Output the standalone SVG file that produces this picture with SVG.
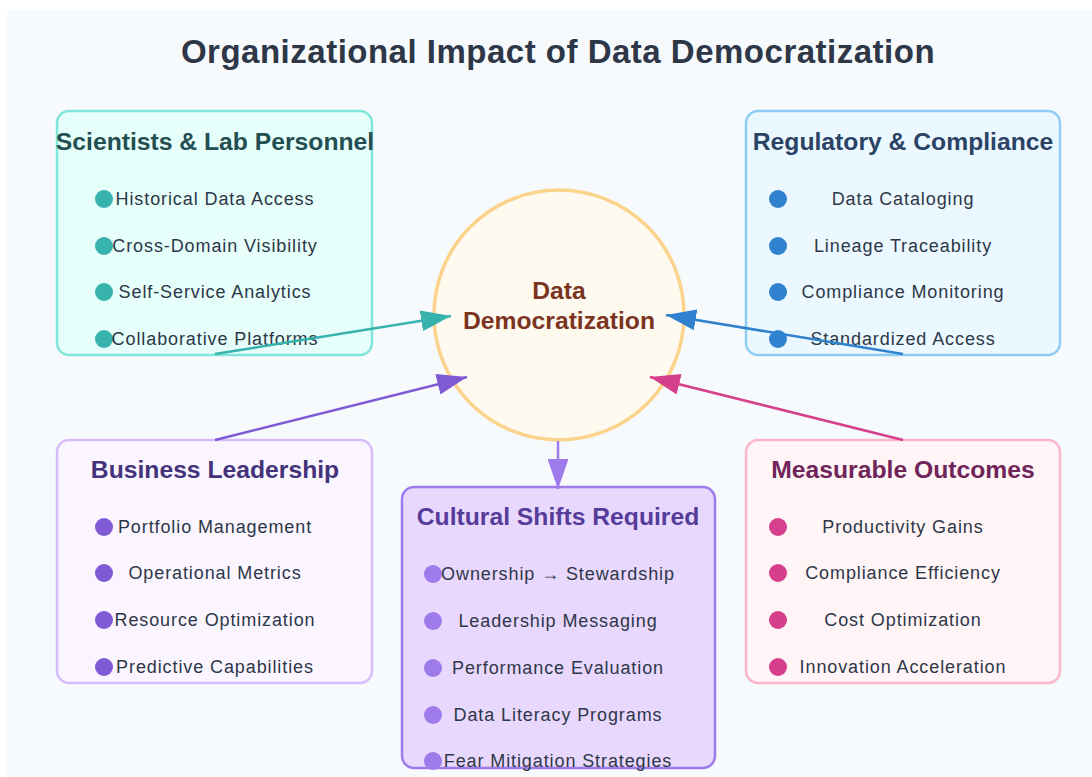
<svg xmlns="http://www.w3.org/2000/svg" width="1092" height="777" viewBox="0 0 1092 777">
  <style>
    .title { font-family: "Liberation Sans", Arial, sans-serif; font-weight: bold; font-size: 33px; letter-spacing: 0.5px; fill: #2d3748; text-anchor: middle; }
    .box { stroke-width: 2.5; }
    .head { font-family: "Liberation Sans", Arial, sans-serif; font-weight: bold; font-size: 24.7px; text-anchor: middle; }
    .item { font-family: "Liberation Sans", Arial, sans-serif; font-size: 18px; letter-spacing: 0.9px; fill: #2d3748; text-anchor: middle; }
    .hub { font-family: "Liberation Sans", Arial, sans-serif; font-weight: bold; font-size: 24.7px; fill: #7b341e; text-anchor: middle; }
    .link { fill: none; stroke-width: 2.5; }
  </style>
  <defs>
    <marker id="ah-teal" markerUnits="userSpaceOnUse" markerWidth="30" markerHeight="21" viewBox="0 0 10 7" refX="10" refY="3.5" orient="auto"><polygon points="0 0, 10 3.5, 0 7" fill="#38b2ac"/></marker>
    <marker id="ah-blue" markerUnits="userSpaceOnUse" markerWidth="30" markerHeight="21" viewBox="0 0 10 7" refX="10" refY="3.5" orient="auto"><polygon points="0 0, 10 3.5, 0 7" fill="#3182ce"/></marker>
    <marker id="ah-purple" markerUnits="userSpaceOnUse" markerWidth="30" markerHeight="21" viewBox="0 0 10 7" refX="10" refY="3.5" orient="auto"><polygon points="0 0, 10 3.5, 0 7" fill="#805ad5"/></marker>
    <marker id="ah-pink" markerUnits="userSpaceOnUse" markerWidth="30" markerHeight="21" viewBox="0 0 10 7" refX="10" refY="3.5" orient="auto"><polygon points="0 0, 10 3.5, 0 7" fill="#d53f8c"/></marker>
    <marker id="ah-lilac" markerUnits="userSpaceOnUse" markerWidth="30" markerHeight="21" viewBox="0 0 10 7" refX="10" refY="3.5" orient="auto"><polygon points="0 0, 10 3.5, 0 7" fill="#9f7aea"/></marker>
  </defs>

  <rect x="0" y="0" width="1092" height="777" fill="#ffffff"/>
  <rect x="7" y="10" width="1085" height="767" fill="#f7fafc"/>

  <text class="title" x="558" y="63">Organizational Impact of Data Democratization</text>

  <!-- Scientists & Lab Personnel -->
  <g id="scientists">
    <rect class="box" x="57" y="111" width="315" height="244" rx="12" fill="#e6fffa" stroke="#81e6d9"/>
    <text class="head" x="215" y="150" fill="#234e52">Scientists &amp; Lab Personnel</text>
    <g fill="#38b2ac">
      <circle cx="104" cy="199" r="9"/>
      <circle cx="104" cy="246" r="9"/>
      <circle cx="104" cy="292" r="9"/>
      <circle cx="104" cy="339" r="9"/>
    </g>
    <text class="item" x="215" y="205">Historical Data Access</text>
    <text class="item" x="215" y="252">Cross-Domain Visibility</text>
    <text class="item" x="215" y="298">Self-Service Analytics</text>
    <text class="item" x="215" y="345">Collaborative Platforms</text>
  </g>

  <!-- Regulatory & Compliance -->
  <g id="regulatory">
    <rect class="box" x="746" y="111" width="314" height="244" rx="12" fill="#ebf8ff" stroke="#90cdf4"/>
    <text class="head" x="903" y="150" fill="#2a4365">Regulatory &amp; Compliance</text>
    <g fill="#3182ce">
      <circle cx="778" cy="199" r="9"/>
      <circle cx="778" cy="246" r="9"/>
      <circle cx="778" cy="292" r="9"/>
      <circle cx="778" cy="339" r="9"/>
    </g>
    <text class="item" x="903" y="205">Data Cataloging</text>
    <text class="item" x="903" y="252">Lineage Traceability</text>
    <text class="item" x="903" y="298">Compliance Monitoring</text>
    <text class="item" x="903" y="345">Standardized Access</text>
  </g>

  <!-- Business Leadership -->
  <g id="business">
    <rect class="box" x="57" y="440" width="315" height="243" rx="12" fill="#faf5ff" stroke="#d6bcfa"/>
    <text class="head" x="215" y="478" fill="#44337a">Business Leadership</text>
    <g fill="#805ad5">
      <circle cx="104" cy="527" r="9"/>
      <circle cx="104" cy="573" r="9"/>
      <circle cx="104" cy="620" r="9"/>
      <circle cx="104" cy="667" r="9"/>
    </g>
    <text class="item" x="215" y="533">Portfolio Management</text>
    <text class="item" x="215" y="579">Operational Metrics</text>
    <text class="item" x="215" y="626">Resource Optimization</text>
    <text class="item" x="215" y="673">Predictive Capabilities</text>
  </g>

  <!-- Measurable Outcomes -->
  <g id="outcomes">
    <rect class="box" x="746" y="440" width="314" height="243" rx="12" fill="#fff5f7" stroke="#fbb6ce"/>
    <text class="head" x="903" y="478" fill="#702459">Measurable Outcomes</text>
    <g fill="#d53f8c">
      <circle cx="778" cy="527" r="9"/>
      <circle cx="778" cy="573" r="9"/>
      <circle cx="778" cy="620" r="9"/>
      <circle cx="778" cy="667" r="9"/>
    </g>
    <text class="item" x="903" y="533">Productivity Gains</text>
    <text class="item" x="903" y="579">Compliance Efficiency</text>
    <text class="item" x="903" y="626">Cost Optimization</text>
    <text class="item" x="903" y="673">Innovation Acceleration</text>
  </g>

  <!-- Cultural Shifts Required -->
  <g id="cultural">
    <rect class="box" x="402" y="487" width="313" height="281" rx="12" fill="#e9d8fd" stroke="#9f7aea"/>
    <text class="head" x="558" y="525" fill="#553c9a">Cultural Shifts Required</text>
    <g fill="#9f7aea">
      <circle cx="433" cy="574" r="9"/>
      <circle cx="433" cy="621" r="9"/>
      <circle cx="433" cy="668" r="9"/>
      <circle cx="433" cy="715" r="9"/>
      <circle cx="433" cy="761" r="9"/>
    </g>
    <text class="item" x="558" y="580">Ownership → Stewardship</text>
    <text class="item" x="558" y="627">Leadership Messaging</text>
    <text class="item" x="558" y="674">Performance Evaluation</text>
    <text class="item" x="558" y="721">Data Literacy Programs</text>
    <text class="item" x="558" y="767">Fear Mitigation Strategies</text>
  </g>

  <!-- Central hub -->
  <g id="hub">
    <circle cx="559" cy="315" r="125" fill="#fffaf0" stroke="#fbd38d" stroke-width="3.5"/>
    <text class="hub" x="559" y="299">Data</text>
    <text class="hub" x="559" y="329">Democratization</text>
  </g>

  <!-- Connectors -->
  <g id="connectors" class="link">
    <line x1="215" y1="354" x2="451" y2="316" stroke="#38b2ac" marker-end="url(#ah-teal)"/>
    <line x1="903" y1="354" x2="666" y2="315" stroke="#3182ce" marker-end="url(#ah-blue)"/>
    <line x1="215" y1="440" x2="467" y2="377" stroke="#805ad5" marker-end="url(#ah-purple)"/>
    <line x1="903" y1="440" x2="650" y2="377" stroke="#d53f8c" marker-end="url(#ah-pink)"/>
    <line x1="558" y1="441" x2="558" y2="489" stroke="#9f7aea" marker-end="url(#ah-lilac)"/>
  </g>
</svg>
